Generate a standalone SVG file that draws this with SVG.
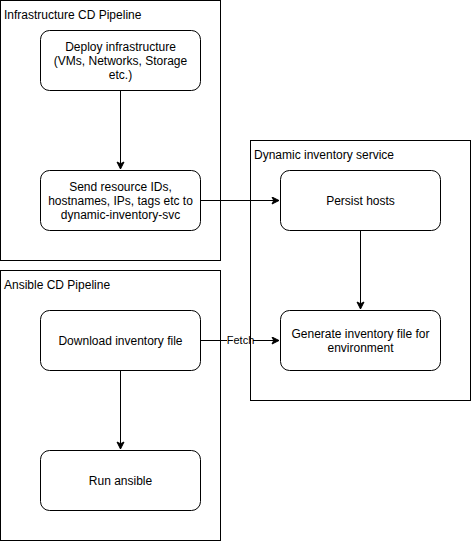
<svg xmlns="http://www.w3.org/2000/svg" width="471" height="541" viewBox="0 0 471 541">
<style>
.c{fill:none;stroke:#000;stroke-width:1}
.n{fill:#fff;stroke:#000;stroke-width:1}
.t{font-family:"Liberation Sans",Arial,sans-serif;font-size:12px;fill:#000}
.m{text-anchor:middle}
.e{fill:none;stroke:#000;stroke-width:1}
.l{font-family:"Liberation Sans",Arial,sans-serif;font-size:11px;fill:#000;text-anchor:middle}
</style>
<defs>
<marker id="a" markerWidth="10" markerHeight="10" refX="8" refY="4" orient="auto" markerUnits="userSpaceOnUse">
<path d="M1,0.5 L8,4 L1,7.5 L2.75,4 Z" fill="#000" stroke="#000" stroke-width="1"/>
</marker>
</defs>
<rect width="471" height="541" fill="#fff"/>
<g id="infra-pipeline">
<rect class="c" x="0.5" y="0.5" width="220" height="260"/>
<text class="t" x="4" y="19">Infrastructure CD Pipeline</text>
</g>
<g id="ansible-pipeline">
<rect class="c" x="0.5" y="270.5" width="220" height="270"/>
<text class="t" x="4" y="289">Ansible CD Pipeline</text>
</g>
<g id="connectors">
<path class="e" d="M120.5,90.5 V169" marker-end="url(#a)"/>
<path class="e" d="M200.5,200.5 H279" marker-end="url(#a)"/>
<path class="e" d="M360.5,230.5 V309" marker-end="url(#a)"/>
<path class="e" d="M120.5,370.5 V449" marker-end="url(#a)"/>
<path class="e" d="M200.5,340.5 H279" marker-end="url(#a)"/>
<rect x="227" y="333" width="26" height="14" fill="#fff"/>
<text class="l" x="240.5" y="344">Fetch</text>
</g>
<g id="dyn-service">
<rect class="c" x="250.5" y="140.5" width="220" height="260"/>
<text class="t" x="254" y="159">Dynamic inventory service</text>
</g>
<g id="deploy">
<rect class="n" x="40.5" y="30.5" width="160" height="60" rx="9"/>
<text class="t m" x="120.5" y="51">Deploy infrastructure</text>
<text class="t m" x="120.5" y="65">(VMs, Networks, Storage</text>
<text class="t m" x="120.5" y="79">etc.)</text>
</g>
<g id="send">
<rect class="n" x="40.5" y="170.5" width="160" height="60" rx="9"/>
<text class="t m" x="120.5" y="191">Send resource IDs,</text>
<text class="t m" x="120.5" y="205">hostnames, IPs, tags etc to</text>
<text class="t m" x="120.5" y="219">dynamic-inventory-svc</text>
</g>
<g id="persist">
<rect class="n" x="280.5" y="170.5" width="160" height="60" rx="9"/>
<text class="t m" x="360.5" y="205">Persist hosts</text>
</g>
<g id="generate">
<rect class="n" x="280.5" y="310.5" width="160" height="60" rx="9"/>
<text class="t m" x="360.5" y="338">Generate inventory file for</text>
<text class="t m" x="360.5" y="352">environment</text>
</g>
<g id="download">
<rect class="n" x="40.5" y="310.5" width="160" height="60" rx="9"/>
<text class="t m" x="120.5" y="345">Download inventory file</text>
</g>
<g id="run">
<rect class="n" x="40.5" y="450.5" width="160" height="60" rx="9"/>
<text class="t m" x="120.5" y="485">Run ansible</text>
</g>
</svg>
